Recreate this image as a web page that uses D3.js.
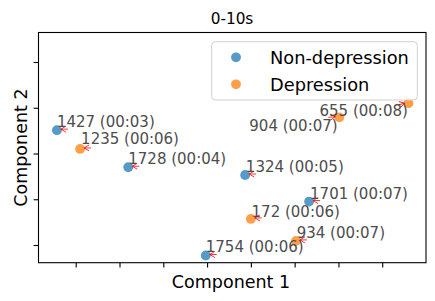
<!DOCTYPE html>
<html>
<head>
<meta charset="utf-8">
<script src="https://cdn.jsdelivr.net/npm/d3@7"></script>
<style>
  html, body { margin: 0; padding: 0; background: #fff; }
  svg { display: block; font-family: "DejaVu Sans", sans-serif; }
</style>
</head>
<body>
<svg id="chart" width="435" height="301"></svg>
<script>
// ---- data ----
const ids      = ["1427", "1235", "1728", "1754", "1324", "1701", "172", "934", "655", "904"];
const times    = ["00:03", "00:06", "00:04", "00:06", "00:05", "00:07", "00:06", "00:07", "00:08", "00:07"];
const groups   = ["Non-depression", "Depression", "Non-depression", "Non-depression", "Non-depression",
                  "Non-depression", "Depression", "Depression", "Depression", "Depression"];
const comp1    = [-3.43, -2.90, -1.80, -0.03, 0.87, 2.33, 1.00, 2.03, 4.60, 3.02];
const comp2    = [0.51, 0.10, -0.30, -2.23, -0.47, -1.05, -1.43, -1.91, 1.10, 0.79];
const xTicks   = [-3, -2, -1, 0, 1, 2, 3, 4];
const yTicks   = [-2, -1, 0, 1, 2];
const legendLabels = ["Non-depression", "Depression"];
const titleText = "0-10s";
const xLabel = "Component 1";
const yLabel = "Component 2";

// ---- layout (label offsets in px, arrow direction in degrees) ----
const labelDx  = [0, 1, 0, 0, 0.7, 1, 0.7, 0.7, -89, -90];
const labelDy  = [-3.5, -4.5, -3.3, -3.6, -3.3, -3, -2.3, -2.7, 13.2, 14];
const arrowAng = [0, 0, 0, 0, 0, 0, 0, 0, 195, 185];

const colors = { "Non-depression": "#1f77b4", "Depression": "#ff7f0e" };

const svg = d3.select("#chart");
const m = { left: 38.5, right: 426, top: 32.5, bottom: 262.7 };

const x = d3.scaleLinear().domain([-3.85, 5.0]).range([m.left, m.right]);
const y = d3.scaleLinear().domain([-2.387, 2.645]).range([m.bottom, m.top]);

// axes
const xAxis = d3.axisBottom(x).tickValues(xTicks).tickFormat("").tickSizeInner(4.9).tickSizeOuter(0);
const yAxis = d3.axisLeft(y).tickValues(yTicks).tickFormat("").tickSizeInner(4.9).tickSizeOuter(0);

svg.append("g").attr("transform", `translate(0,${m.bottom})`).call(xAxis)
  .call(g => g.select(".domain").remove())
  .selectAll("line").attr("stroke", "#000").attr("stroke-width", 1.1);
svg.append("g").attr("transform", `translate(${m.left},0)`).call(yAxis)
  .call(g => g.select(".domain").remove())
  .selectAll("line").attr("stroke", "#000").attr("stroke-width", 1.1);

// frame
svg.append("rect")
  .attr("x", m.left).attr("y", m.top)
  .attr("width", m.right - m.left).attr("height", m.bottom - m.top)
  .attr("fill", "none").attr("stroke", "#000").attr("stroke-width", 1.1);

const data = ids.map((id, i) => ({
  id, time: times[i], group: groups[i], c1: comp1[i], c2: comp2[i],
  dx: labelDx[i], dy: labelDy[i], ang: arrowAng[i]
}));

// points
svg.append("g").selectAll("circle").data(data).join("circle")
  .attr("cx", d => x(d.c1)).attr("cy", d => y(d.c2)).attr("r", 4.9)
  .attr("fill", d => colors[d.group]).attr("fill-opacity", 0.75);

// arrows
const arrows = svg.append("g").attr("stroke", "#ff0000").attr("stroke-width", 0.8).attr("fill", "none");
data.forEach(d => {
  const cx = x(d.c1), cy = y(d.c2) - 1;
  const g = arrows.append("g").attr("transform", `translate(${cx},${cy}) rotate(${-d.ang})`);
  g.append("path").attr("d", "M4,0 L9,-3 M4,0 L9,3 M4,0 L11,0");
});

// labels
svg.append("g").selectAll("text").data(data).join("text")
  .attr("x", d => x(d.c1) + d.dx).attr("y", d => y(d.c2) + d.dy)
  .attr("font-size", 15).attr("fill", "#4d4d4d")
  .text(d => `${d.id} (${d.time})`);

// legend
const lg = svg.append("g");
lg.append("rect").attr("x", 211.7).attr("y", 41.7).attr("width", 205.6).attr("height", 58.3)
  .attr("rx", 3.5).attr("fill", "#fff").attr("fill-opacity", 0.8)
  .attr("stroke", "#d0d0d0").attr("stroke-width", 1);
legendLabels.forEach((lab, i) => {
  const yy = 57.3 + i * 27;
  lg.append("circle").attr("cx", 236).attr("cy", yy).attr("r", 4.9)
    .attr("fill", colors[lab]).attr("fill-opacity", 0.75);
  lg.append("text").attr("x", 270).attr("y", yy + 6.2)
    .attr("font-size", 17.8).attr("fill", "#000").text(lab);
});

// title & axis labels
svg.append("text").attr("x", 232).attr("y", 24).attr("text-anchor", "middle")
  .attr("font-size", 15.3).attr("fill", "#000").text(titleText);
svg.append("text").attr("x", 231).attr("y", 288).attr("text-anchor", "middle")
  .attr("font-size", 17.5).attr("fill", "#000").text(xLabel);
svg.append("text").attr("transform", `translate(27,${(m.top + m.bottom) / 2}) rotate(-90)`)
  .attr("text-anchor", "middle").attr("font-size", 17.5).attr("fill", "#000").text(yLabel);
</script>
</body>
</html>
